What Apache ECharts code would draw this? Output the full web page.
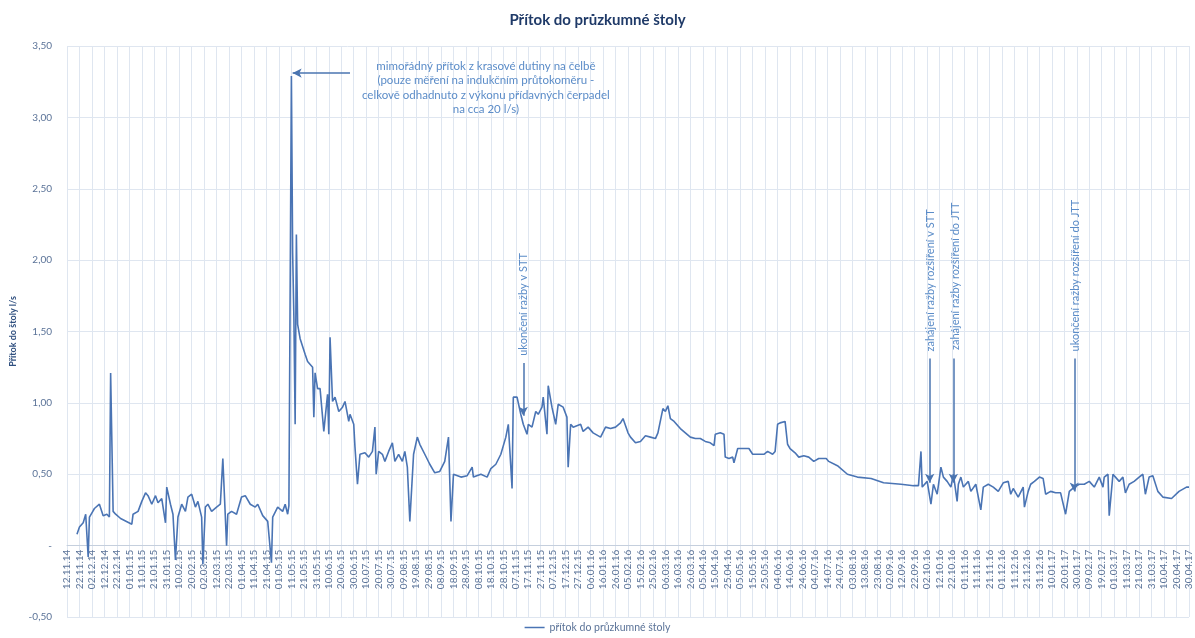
<!DOCTYPE html>
<html>
<head>
<meta charset="utf-8">
<script src="https://cdn.jsdelivr.net/npm/echarts@6/dist/echarts.min.js"></script>
<style>
  html, body { margin: 0; padding: 0; background: #fff; }
  #chart { width: 1195px; height: 638px; }
</style>
</head>
<body>
<div id="chart"></div>
<script>
// tick labels, every 10 days from 12.11.2014 (day 0)
var dateLabels = [
  '12.11.14','22.11.14','02.12.14','12.12.14','22.12.14',
  '01.01.15','11.01.15','21.01.15','31.01.15','10.02.15','20.02.15','02.03.15','12.03.15','22.03.15',
  '01.04.15','11.04.15','21.04.15','01.05.15','11.05.15','21.05.15','31.05.15','10.06.15','20.06.15',
  '30.06.15','10.07.15','20.07.15','30.07.15','09.08.15','19.08.15','29.08.15','08.09.15','18.09.15',
  '28.09.15','08.10.15','18.10.15','28.10.15','07.11.15','17.11.15','27.11.15','07.12.15','17.12.15','27.12.15',
  '06.01.16','16.01.16','26.01.16','05.02.16','15.02.16','25.02.16','06.03.16','16.03.16','26.03.16',
  '05.04.16','15.04.16','25.04.16','05.05.16','15.05.16','25.05.16','04.06.16','14.06.16','24.06.16',
  '04.07.16','14.07.16','24.07.16','03.08.16','13.08.16','23.08.16','02.09.16','12.09.16','22.09.16',
  '02.10.16','12.10.16','22.10.16','01.11.16','11.11.16','21.11.16','01.12.16','11.12.16','21.12.16','31.12.16',
  '10.01.17','20.01.17','30.01.17','09.02.17','19.02.17','01.03.17','11.03.17','21.03.17','31.03.17',
  '10.04.17','20.04.17','30.04.17'
];

// measurement day (days since 12.11.2014) and inflow in l/s
var day = [
  8,10,13,15,17,18,20,22,26,29,32,34,35,37,39,43,52,53,57,60,
  63,65,68,71,73,76,79,80,83,85,87,89,92,95,97,100,103,105,108,109,
  111,113,116,120,123,125,128,129,132,136,140,143,147,151,153,157,161,162,164,165,
  169,173,175,177,178,180,181,182,183,184,185,187,191,193,197,198,199,201,203,206,
  209,210,211,213,215,218,221,223,226,227,230,231,233,235,239,242,245,247,248,250,
  253,255,258,261,263,266,269,271,273,275,278,281,283,287,291,295,299,303,306,308,
  310,316,321,325,326,332,337,340,344,348,352,354,357,358,361,364,366,369,370,373,
  376,378,381,382,385,386,389,392,394,398,401,402,404,406,412,414,418,422,428,432,
  436,440,444,446,450,452,456,460,464,468,472,474,478,480,482,484,487,490,492,496,
  500,504,508,512,516,519,520,524,527,528,531,534,535,538,543,547,550,554,559,562,
  566,568,570,572,576,578,580,584,587,591,595,599,603,609,611,618,626,634,645,655,
  669,679,683,685,686,690,693,695,698,701,703,706,709,711,714,715,717,719,723,725,
  729,733,735,739,743,747,751,755,757,759,763,767,768,771,773,776,780,783,784,785,
  789,793,797,801,804,808,812,816,820,824,828,831,832,835,836,839,841,844,847,849,
  852,856,860,863,865,868,871,875,879,886,892,898,900
];
var flow = [
  0.08,0.13,0.16,0.22,-0.08,0.20,0.23,0.26,0.29,0.21,0.22,0.20,1.21,0.24,0.22,0.19,0.15,0.22,0.24,0.31,
  0.37,0.35,0.29,0.35,0.30,0.33,0.16,0.41,0.29,0.22,-0.10,0.20,0.29,0.24,0.34,0.36,0.27,0.31,0.20,-0.13,
  0.27,0.29,0.24,0.27,0.29,0.61,0.00,0.22,0.24,0.22,0.34,0.35,0.29,0.27,0.29,0.21,0.17,0.17,-0.12,0.20,
  0.27,0.24,0.29,0.22,0.28,3.29,2.05,1.60,0.85,2.18,1.55,1.45,1.34,1.29,1.25,0.90,1.21,1.10,1.10,0.80,
  1.06,0.78,1.46,1.01,1.04,0.94,0.97,1.01,0.87,0.92,0.85,0.69,0.43,0.64,0.65,0.62,0.66,0.83,0.50,0.66,
  0.64,0.59,0.66,0.72,0.59,0.64,0.59,0.66,0.55,0.17,0.64,0.76,0.71,0.64,0.57,0.51,0.52,0.59,0.76,0.17,
  0.50,0.48,0.49,0.55,0.48,0.50,0.48,0.54,0.57,0.64,0.76,0.85,0.40,1.04,1.04,0.92,0.85,0.78,0.85,0.83,
  0.94,0.92,0.97,1.04,0.78,1.12,0.97,0.85,0.99,0.97,0.90,0.55,0.85,0.83,0.85,0.80,0.83,0.79,0.76,0.83,
  0.82,0.83,0.86,0.89,0.79,0.76,0.72,0.73,0.77,0.76,0.75,0.79,0.96,0.94,0.98,0.89,0.87,0.84,0.82,0.79,
  0.76,0.75,0.75,0.73,0.72,0.70,0.78,0.79,0.78,0.62,0.61,0.62,0.58,0.68,0.68,0.68,0.64,0.64,0.64,0.66,
  0.64,0.66,0.85,0.86,0.87,0.71,0.68,0.65,0.62,0.63,0.62,0.59,0.61,0.61,0.59,0.56,0.50,0.48,0.47,0.44,
  0.43,0.42,0.42,0.66,0.41,0.45,0.29,0.43,0.36,0.55,0.48,0.45,0.41,0.50,0.31,0.43,0.48,0.41,0.45,0.38,
  0.43,0.25,0.41,0.43,0.41,0.38,0.44,0.45,0.36,0.40,0.34,0.41,0.27,0.38,0.43,0.45,0.48,0.47,0.48,0.36,
  0.38,0.37,0.37,0.22,0.38,0.41,0.43,0.43,0.45,0.41,0.48,0.41,0.48,0.50,0.21,0.50,0.48,0.45,0.48,0.37,
  0.43,0.45,0.48,0.50,0.36,0.48,0.49,0.38,0.34,0.33,0.38,0.41,0.41
];

var seriesName = 'přítok do průzkumné štoly';
var noteColor = '#5b8cc8';
var arrowColor = '#4a74b0';
var axisText = '#5b7398';
var font = 'Lato, "Open Sans", sans-serif';

// annotations in data coordinates [day, l/s]
var topNote = ['mimořádný přítok z krasové dutiny na čelbě',
               '(pouze měření na indukčním průtokoměru -',
               'celkově odhadnuto z výkonu přídavných čerpadel',
               'na cca 20 l/s)'];
var vertNotes = [
  { text: 'ukončení ražby v STT', at: [366.5, 1.33] },
  { text: 'zahájení ražby rozšíření v STT', at: [692.5, 1.36] },
  { text: 'zahájení ražby rozšíření do JTT', at: [712.5, 1.37] },
  { text: 'ukončení ražby rozšíření do JTT', at: [809, 1.36] }
];
var arrows = [
  [[227, 3.31], [181, 3.31]],
  [[366, 1.28], [366, 0.91]],
  [[692, 1.31], [692, 0.44]],
  [[711, 1.31], [711, 0.44]],
  [[808, 1.31], [808, 0.38]]
];

var yMin = -0.5, yMax = 3.5;
var gridTop = 46, gridBottom = 21, chartH = 638;
// move the date axis up to the zero line
var zeroOffset = -(chartH - gridTop - gridBottom) * (0 - yMin) / (yMax - yMin);

var chart = echarts.init(document.getElementById('chart'));

var option = {
  animation: false,
  textStyle: { fontFamily: font },
  title: {
    text: 'Přítok do průzkumné štoly',
    left: 'center',
    top: 8,
    textStyle: { color: '#1f3a68', fontSize: 15, fontWeight: 'bold', fontFamily: font }
  },
  legend: {
    bottom: 0,
    left: 'center',
    icon: 'rect',
    itemWidth: 20,
    itemHeight: 1.5,
    textStyle: { color: axisText, fontSize: 10.5, fontFamily: font },
    data: [seriesName]
  },
  grid: { left: 67, right: 6, top: gridTop, bottom: gridBottom, containLabel: false, outerBoundsMode: 'none' },
  xAxis: {
    type: 'value',
    min: 0,
    max: 900,
    interval: 10,
    offset: zeroOffset,
    axisLine: { onZero: false, lineStyle: { color: '#c5cfdd', width: 1 } },
    axisTick: { show: false },
    axisLabel: {
      rotate: 90,
      fontSize: 10,
      color: axisText,
      margin: 4,
      formatter: function (v) { return dateLabels[Math.round(v / 10)] || ''; }
    },
    splitLine: { show: true, lineStyle: { color: '#dfe6f0', width: 1 } }
  },
  yAxis: {
    type: 'value',
    min: yMin,
    max: yMax,
    interval: 0.5,
    name: 'Přítok do štoly l/s',
    nameLocation: 'middle',
    nameGap: 46,
    nameTextStyle: { color: '#2f4f7f', fontSize: 9, fontWeight: 'bold', fontFamily: font },
    axisLine: { show: false },
    axisTick: { show: false },
    axisLabel: {
      fontSize: 10,
      color: axisText,
      margin: 15,
      formatter: function (v) {
        if (Math.abs(v) < 1e-9) return '-';
        return v.toFixed(2).replace('.', ',');
      }
    },
    splitLine: { lineStyle: { color: '#dfe6f0', width: 1 } }
  },
  series: [{
    name: seriesName,
    type: 'line',
    showSymbol: false,
    symbol: 'none',
    lineStyle: { color: '#4a74b4', width: 1.6 },
    itemStyle: { color: '#4a74b4' },
    data: day.map(function (d, i) { return [d, flow[i]]; }),
    markLine: {
      silent: true,
      symbol: ['none', 'arrow'],
      symbolSize: [7, 9],
      label: { show: false },
      lineStyle: { color: arrowColor, width: 1.5, type: 'solid' },
      data: arrows.map(function (a) {
        return [{ coord: a[0] }, { coord: a[1] }];
      })
    }
  }]
};
chart.setOption(option);

// annotation texts placed from data coordinates
var g = [];
var p = chart.convertToPixel({ gridIndex: 0 }, [336, 3.41]);
g.push({
  type: 'text',
  x: p[0], y: p[1],
  style: {
    text: topNote.join('\n'),
    fill: noteColor,
    font: '11.5px ' + font,
    lineHeight: 14.5,
    align: 'center',
    verticalAlign: 'top'
  }
});
vertNotes.forEach(function (n) {
  var q = chart.convertToPixel({ gridIndex: 0 }, n.at);
  g.push({
    type: 'text',
    x: q[0], y: q[1],
    rotation: Math.PI / 2,
    style: {
      text: n.text,
      fill: noteColor,
      font: '11px ' + font,
      align: 'left',
      verticalAlign: 'middle'
    }
  });
});
chart.setOption({ graphic: g });
</script>
</body>
</html>
